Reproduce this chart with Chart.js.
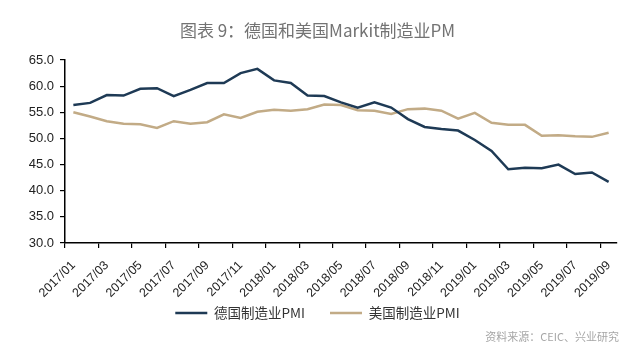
<!DOCTYPE html>
<html>
<head>
<meta charset="utf-8">
<script src="https://cdn.jsdelivr.net/npm/chart.js@4/dist/chart.umd.min.js"></script>
<style>
html,body{margin:0;padding:0;background:#fff;}
#wrap{width:640px;height:356px;position:relative;}
</style>
</head>
<body>
<div id="wrap"><canvas id="c" width="640" height="356"></canvas></div>
<script>
const categories = [
  "2017/01","2017/02","2017/03","2017/04","2017/05","2017/06","2017/07","2017/08","2017/09","2017/10","2017/11","2017/12",
  "2018/01","2018/02","2018/03","2018/04","2018/05","2018/06","2018/07","2018/08","2018/09","2018/10","2018/11","2018/12",
  "2019/01","2019/02","2019/03","2019/04","2019/05","2019/06","2019/07","2019/08","2019/09"
];
const germanyPMI = [
  56.4,56.8,58.3,58.2,59.5,59.6,58.1,59.3,60.6,60.6,62.5,63.3,
  61.1,60.6,58.2,58.1,56.9,55.9,56.9,55.9,53.7,52.2,51.8,51.5,
  49.7,47.6,44.1,44.4,44.3,45.0,43.2,43.5,41.7
];
const usPMI = [
  55.0,54.2,53.3,52.8,52.7,52.0,53.3,52.8,53.1,54.6,53.9,55.1,
  55.5,55.3,55.6,56.5,56.4,55.4,55.3,54.7,55.6,55.7,55.3,53.8,
  54.9,53.0,52.6,52.6,50.5,50.6,50.4,50.3,51.1
];
const seriesNames = ["德国制造业PMI","美国制造业PMI"];
const yTicks = [30,35,40,45,50,55,60,65];
const titleText = "图表 9：德国和美国Markit制造业PM";
const sourceText = "资料来源：CEIC、兴业研究";

const axisColor = "#000";

const sourcePlugin = {
  id: "sourceNote",
  afterDraw(chart) {
    const ctx = chart.ctx;
    ctx.save();
    ctx.font = "11px 'Noto Sans CJK SC', sans-serif";
    ctx.fillStyle = "#a6a6a6";
    ctx.textAlign = "right";
    ctx.textBaseline = "middle";
    ctx.fillText(sourceText, chart.width - 21, chart.height - 19);
    ctx.restore();
  }
};

new Chart(document.getElementById("c"), {
  type: "line",
  data: {
    labels: categories,
    datasets: [
      {label: seriesNames[0], data: germanyPMI, borderColor: "#1e3a55", backgroundColor: "#1e3a55", borderWidth: 2.5, pointRadius: 0, tension: 0},
      {label: seriesNames[1], data: usPMI, borderColor: "#c2ab86", backgroundColor: "#c2ab86", borderWidth: 2.5, pointRadius: 0, tension: 0}
    ]
  },
  plugins: [sourcePlugin],
  options: {
    responsive: false,
    animation: false,
    events: [],
    layout: {padding: {left: 18, right: 23, top: 0, bottom: 26.25}},
    plugins: {
      title: {
        display: true, text: titleText, color: "#737373",
        font: {family: "'Noto Sans CJK SC', 'Noto Sans', sans-serif", size: 17, weight: "normal"},
        padding: {top: 20, bottom: 19.6}
      },
      legend: {
        position: "bottom",
        labels: {
          usePointStyle: true, pointStyle: "line", pointStyleWidth: 32,
          color: "#333", padding: 25,
          font: {family: "'Noto Sans CJK SC', sans-serif", size: 13.5}
        }
      },
      tooltip: {enabled: false}
    },
    scales: {
      x: {
        type: "category",
        offset: true,
        grid: {
          offset: true, drawOnChartArea: false, drawTicks: true, tickLength: 5,
          color: (ctx) => (ctx.index % 2 === 0 ? axisColor : "rgba(0,0,0,0)"),
          lineWidth: 1.2
        },
        border: {display: true, color: axisColor, width: 1.5},
        ticks: {
          autoSkip: false, minRotation: 45, maxRotation: 45, color: "#222", padding: 10,
          font: {family: "'Liberation Sans', Arial, sans-serif", size: 12.5},
          callback: function(v, i) { return i % 2 === 0 ? this.getLabelForValue(v) : ""; }
        },
        afterFit: (s) => { s.height = 38.25; s._computeLabelArea = () => undefined; }
      },
      y: {
        min: 30, max: 65,
        afterBuildTicks: (s) => { s.ticks = yTicks.map(v => ({value: v})); },
        grid: {drawOnChartArea: false, drawTicks: true, tickLength: 5, color: axisColor, lineWidth: 1.2},
        border: {display: true, color: axisColor, width: 1.5},
        ticks: {
          color: "#222", padding: 6,
          font: {family: "'Liberation Sans', Arial, sans-serif", size: 13},
          callback: (v) => Number(v).toFixed(1)
        },
        afterFit: (s) => { s.width = 47; }
      }
    }
  }
});
</script>
</body>
</html>
